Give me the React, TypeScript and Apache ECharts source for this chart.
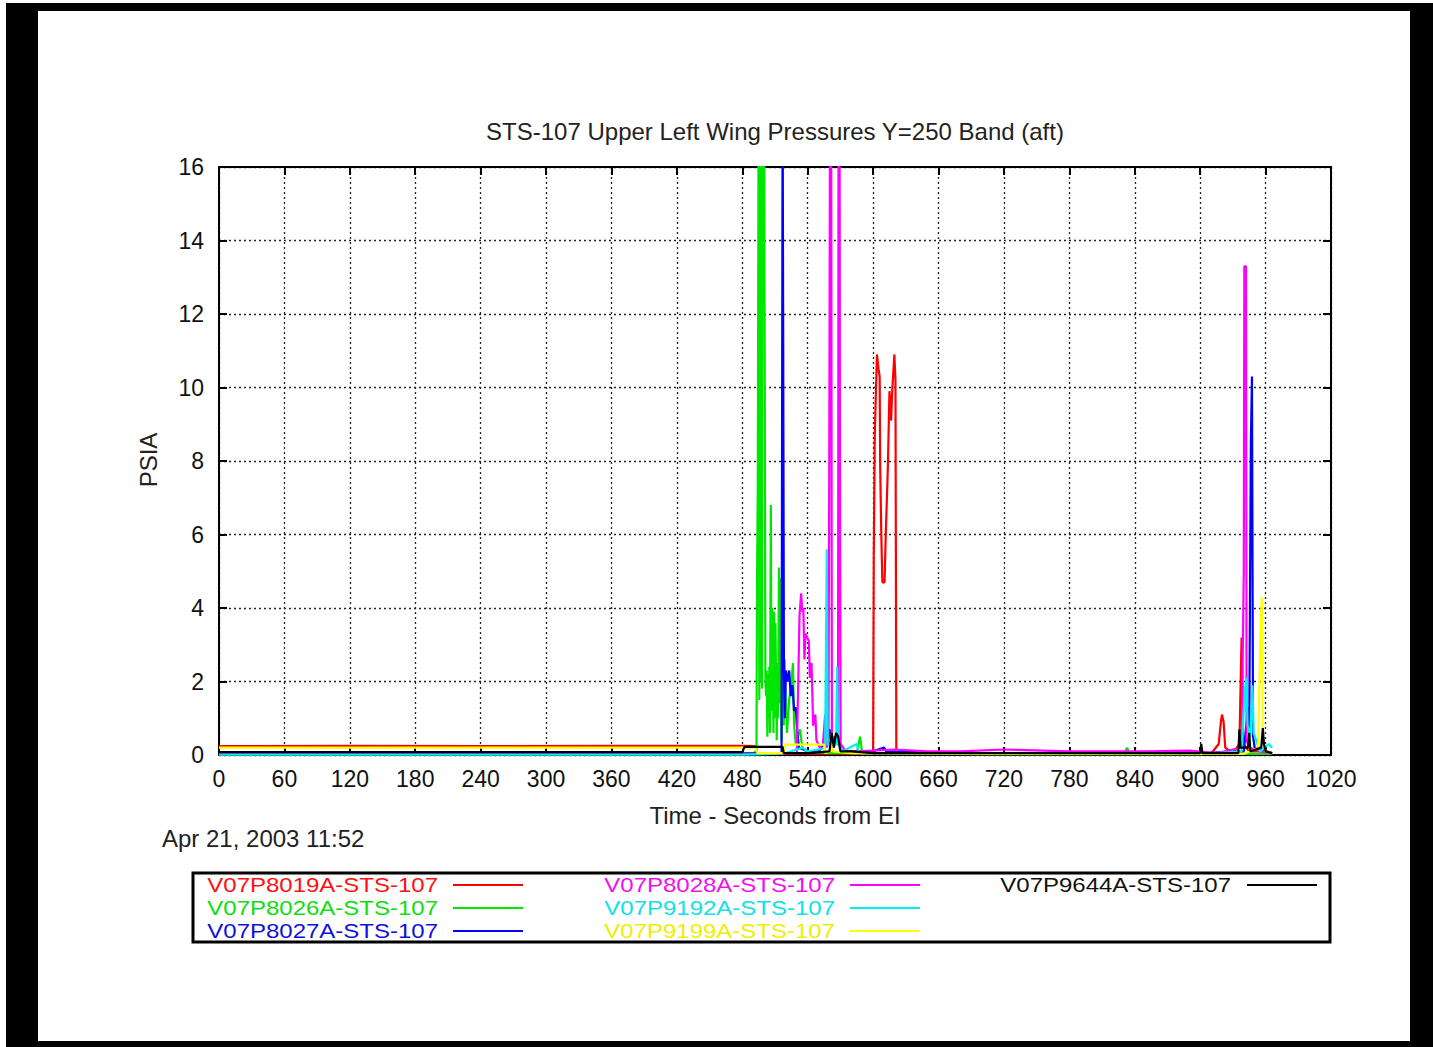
import React, { useEffect, useRef } from "react";
import * as echarts from "echarts";

const TITLE = "STS-107 Upper Left Wing Pressures Y=250 Band (aft)";
const X_LABEL = "Time - Seconds from EI";
const Y_LABEL = "PSIA";
const DATE_LABEL = "Apr 21, 2003 11:52";
const X_MIN = 0;
const X_MAX = 1020;
const X_STEP = 60;
const Y_MIN = 0;
const Y_MAX = 16;
const Y_STEP = 2;

const SERIES_NAMES = [
  "V07P8019A-STS-107",
  "V07P8026A-STS-107",
  "V07P8027A-STS-107",
  "V07P8028A-STS-107",
  "V07P9192A-STS-107",
  "V07P9199A-STS-107",
  "V07P9644A-STS-107",
];
const SERIES_COLORS = ["#ff0000", "#00e600", "#0000ff", "#ff00ff", "#00f0f0", "#ffff00", "#000000"];
const LEGEND_TEXT_COLORS = ["#ff1010", "#10dd10", "#1010dd", "#ee10ee", "#10e0e8", "#eeee00", "#111111"];

const RED = [[0,0.24],[120,0.25],[240,0.24],[360,0.25],[480,0.25],[492,0.24],[494,0.04],[560,0.04],[600,0.04],[600.6,5.4],[601.5,8.7],[603.5,10.9],[605,10.5],[606,10.3],[606.5,7.8],[607.5,6.0],[608.5,4.7],[610.5,4.7],[611.5,5.9],[613.5,7.8],[615,9.9],[616.5,9.1],[617.5,9.9],[619.5,10.9],[620.5,10.2],[621.3,0.05],[700,0.03],[800,0.03],[910,0.04],[917,0.3],[919,0.9],[920,1.1],[921.5,0.9],[923,0.2],[930,0.05],[936,0.3],[937.5,2.5],[938,3.2],[938.8,1.8],[939.5,0.3],[945,0.1],[955,0.1],[966,0.05]];
const GREEN = [[0,0.05],[240,0.05],[490,0.05],[493,0.1],[493.5,4.7],[494.2,7.3],[495,18],[495.6,1.5],[496.2,18],[496.8,2.0],[497.4,18],[498,1.8],[498.6,18],[499.2,18],[500,18],[500.6,18],[501.2,2.0],[501.8,1.6],[502.4,2.3],[503,0.5],[503.6,2.2],[504.2,1.2],[504.8,2.4],[505.4,0.6],[506.2,6.8],[506.8,1.2],[507.4,4.0],[508,2.4],[508.6,0.6],[509.2,3.9],[509.8,1.0],[510.4,3.6],[511,2.0],[511.6,0.4],[512.2,2.5],[512.8,1.0],[513.6,5.1],[514.2,1.4],[514.8,4.8],[515.4,2.2],[516,0.4],[516.6,2.0],[517.4,2.6],[518,0.8],[518.8,2.6],[519.5,1.8],[521,0.6],[523,1.5],[525,2.0],[526.5,2.5],[527.5,0.8],[529,0.3],[531,0.5],[533,0.7],[535,0.2],[540,0.1],[560,0.05],[585,0.05],[588,0.5],[590,0.05],[700,0.03],[830,0.03],[833,0.2],[835,0.03],[940,0.03],[966,0.03]];
const BLUE = [[0,0.04],[240,0.04],[480,0.04],[516,0.05],[517,18],[517.6,18],[518.2,2.2],[519,1.0],[520,2.3],[521.5,2.0],[523,2.3],[524.5,1.6],[526,1.9],[527.5,1.2],[529,1.3],[530.5,0.6],[532,0.2],[540,0.1],[550,0.1],[556,0.3],[557.5,1.4],[558.5,0.4],[560,0.7],[562,0.3],[565,0.5],[568,0.3],[572,0.1],[600,0.1],[610,0.2],[612,0.1],[650,0.08],[700,0.05],[900,0.05],[940,0.1],[944,1.3],[945,0.6],[946.5,8.5],[947.5,10.3],[948.5,0.5],[950,0.2],[966,0.05]];
const MAGENTA = [[0,0.02],[480,0.02],[530,0.05],[531,1.5],[532.5,3.8],[534,4.4],[535,3.9],[536,4.0],[537,2.6],[538,3.3],[539.5,3.2],[541,3.1],[542,2.1],[543.5,2.5],[545,0.8],[547,1.1],[548,0.4],[551,0.2],[554,0.3],[556,1.1],[557,0.2],[559,0.3],[559.8,8.4],[560.5,18],[561.5,18],[562.2,0.5],[565,0.4],[567.8,0.5],[568.3,18],[569.2,18],[569.6,7.1],[570.2,0.3],[575,0.1],[585,0.1],[620,0.15],[650,0.1],[680,0.1],[720,0.15],[780,0.1],[850,0.1],[890,0.12],[915,0.05],[930,0.15],[938,0.2],[940,5],[940.5,13.3],[942,13.3],[942.6,0.4],[945,0.2],[955,0.1],[966,0.05]];
const CYAN = [[0,0.01],[480,0.01],[500,0.02],[520,0.05],[535,0.2],[540,0.1],[550,0.15],[556,0.2],[557.5,5.6],[558.3,0.3],[562,0.2],[566,0.3],[567,2.4],[567.8,0.3],[572,0.1],[585,0.3],[587,0.05],[700,0.02],[900,0.02],[938,0.1],[941,1.8],[942.5,2.1],[943.5,0.8],[946,0.5],[948,1.9],[949,0.6],[955,0.1],[963,0.3],[966,0.2]];
const YELLOW = [[0,0.2],[240,0.2],[480,0.2],[492,0.2],[494,0.05],[518,0.05],[519,0.28],[555,0.28],[556,0.05],[561,0.1],[562,0.6],[563,0.1],[580,0.05],[700,0.03],[940,0.03],[953,0.2],[955.5,3.5],[956.5,4.3],[957.5,0.4],[960,0.1],[966,0.05]];
const BLACK = [[0,0.08],[240,0.08],[480,0.08],[482,0.22],[517,0.22],[518,0.05],[540,0.05],[560,0.1],[562,0.6],[564,0.2],[566,0.6],[568,0.5],[570,0.1],[580,0.1],[600,0.05],[900,0.05],[901,0.3],[902,0.05],[935,0.05],[936,0.7],[937,0.2],[944,0.2],[945,0.6],[946,0.1],[956,0.2],[957.5,0.73],[958.5,0.3],[960,0.1],[966,0.05]];

const SERIES_DATA = [RED, GREEN, BLUE, MAGENTA, CYAN, YELLOW, BLACK];

const FONT = "'Liberation Sans', Arial, Helvetica, sans-serif";

export default function App() {
  const ref = useRef<HTMLDivElement>(null);
  useEffect(() => {
    document.body.style.margin = "0";
    if (!ref.current) return;
    const chart = echarts.init(ref.current, null, { renderer: "svg" });

    const legendCols = [
      { textRight: 438, lineX: 453 },
      { textRight: 835, lineX: 850 },
      { textRight: 1231, lineX: 1247 },
    ];
    const legendRows = [885, 908, 931];
    const legendGraphics: any[] = [];
    SERIES_NAMES.forEach((name, i) => {
      const col = legendCols[Math.floor(i / 3)];
      const y = legendRows[i % 3];
      legendGraphics.push({
        type: "text",
        x: col.textRight,
        y,
        scaleX: 1.2,
        style: {
          text: name,
          fill: LEGEND_TEXT_COLORS[i],
          font: `20px ${FONT}`,
          align: "right",
          verticalAlign: "middle",
        },
      });
      legendGraphics.push({
        type: "line",
        shape: { x1: col.lineX, y1: y, x2: col.lineX + 70, y2: y },
        style: { stroke: SERIES_COLORS[i], lineWidth: 2 },
      });
    });

    const axisCommon = {
      type: "value" as const,
      axisLine: { show: true, onZero: false, lineStyle: { color: "#000", width: 2 } },
      axisTick: { show: true, inside: true, length: 8, lineStyle: { color: "#000", width: 2 } },
    };
    const grid = { show: true, lineStyle: { color: "#222", width: 1.3, type: [2, 3] } };

    chart.setOption({
      animation: false,
      backgroundColor: "#ffffff",
      textStyle: { fontFamily: FONT },
      grid: { left: 219, top: 167, width: 1112, height: 588, containLabel: false },
      xAxis: [
        {
          ...axisCommon,
          position: "bottom",
          min: X_MIN,
          max: X_MAX,
          interval: X_STEP,
          axisLabel: { color: "#111", fontSize: 23, margin: 12, fontFamily: FONT, formatter: (v: number) => String(v) },
          splitLine: grid,
        },
        {
          ...axisCommon,
          position: "top",
          min: X_MIN,
          max: X_MAX,
          interval: X_STEP,
          axisLabel: { show: false },
          splitLine: { show: false },
        },
      ],
      yAxis: [
        {
          ...axisCommon,
          position: "left",
          min: Y_MIN,
          max: Y_MAX,
          interval: Y_STEP,
          axisLabel: { color: "#111", fontSize: 23, margin: 15, fontFamily: FONT, formatter: (v: number) => String(v) },
          splitLine: grid,
        },
        {
          ...axisCommon,
          position: "right",
          min: Y_MIN,
          max: Y_MAX,
          interval: Y_STEP,
          axisLabel: { show: false },
          splitLine: { show: false },
        },
      ],
      series: SERIES_DATA.map((d, i) => ({
        name: SERIES_NAMES[i],
        type: "line",
        data: d,
        xAxisIndex: 0,
        yAxisIndex: 0,
        showSymbol: false,
        symbol: "none",
        clip: true,
        lineStyle: { color: SERIES_COLORS[i], width: 2.2 },
        itemStyle: { color: SERIES_COLORS[i] },
        z: 3 + i,
      })),
      graphic: [
        { type: "rect", shape: { x: 6, y: 3, width: 32, height: 1044 }, style: { fill: "#000" } },
        { type: "rect", shape: { x: 6, y: 3, width: 1427, height: 8 }, style: { fill: "#000" } },
        { type: "rect", shape: { x: 1410, y: 3, width: 23, height: 1044 }, style: { fill: "#000" } },
        { type: "rect", shape: { x: 6, y: 1041, width: 1427, height: 6 }, style: { fill: "#000" } },
        {
          type: "text",
          x: 775,
          y: 131,
          style: { text: TITLE, fill: "#222", font: `24px ${FONT}`, align: "center", verticalAlign: "middle" },
        },
        {
          type: "text",
          x: 775,
          y: 815,
          style: { text: X_LABEL, fill: "#222", font: `24px ${FONT}`, align: "center", verticalAlign: "middle" },
        },
        {
          type: "text",
          x: 148,
          y: 460,
          rotation: Math.PI / 2,
          style: { text: Y_LABEL, fill: "#222", font: `24px ${FONT}`, align: "center", verticalAlign: "middle" },
        },
        {
          type: "text",
          x: 162,
          y: 838,
          style: { text: DATE_LABEL, fill: "#222", font: `24px ${FONT}`, align: "left", verticalAlign: "middle" },
        },
        {
          type: "rect",
          shape: { x: 193, y: 873, width: 1137, height: 69 },
          style: { fill: "transparent", stroke: "#000", lineWidth: 3 },
        },
        ...legendGraphics,
      ],
    });
    return () => chart.dispose();
  }, []);
  return (
    <div
      ref={ref}
      style={{ position: "fixed", left: 0, top: 0, width: 1433, height: 1047, background: "#fff" }}
    />
  );
}
